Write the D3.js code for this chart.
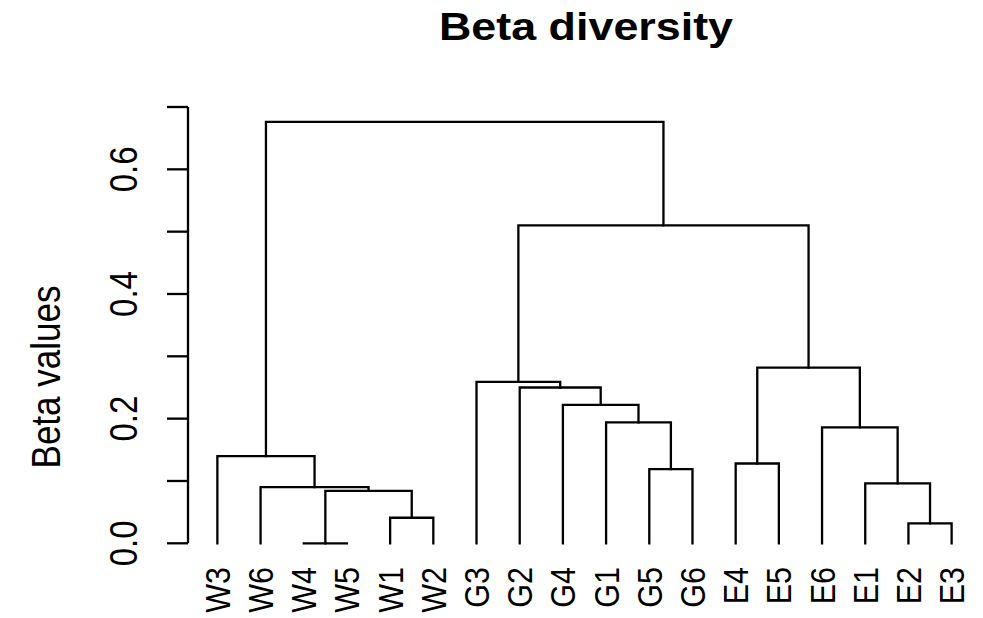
<!DOCTYPE html>
<html>
<head>
<meta charset="utf-8">
<script src="https://cdn.jsdelivr.net/npm/d3@7"></script>
<style>
  body { margin: 0; background: #fff; }
  svg text { font-family: "Liberation Sans", Arial, Helvetica, sans-serif; fill: #000; }
</style>
</head>
<body>
<svg id="chart" width="983" height="618"></svg>
<script>
// ---- Data ----
// leaf order along the x axis
const leaves = ["W3","W6","W4","W5","W1","W2","G3","G2","G4","G1","G5","G6","E4","E5","E6","E1","E2","E3"];
// hclust style merges: a string is a leaf, a number is an earlier merge (1-based)
const mergeLeft  = ["W4","E2","W1", 1,"W6","E1","G5","E4","W3","E6","G1","G4","G2","G3", 8, 14,  9];
const mergeRight = ["W5","E3","W2", 3,  4,   2,"G6","E5",  5,  6,  7,  11,  12,  13, 10, 15, 16];
const heights    = [0.000,0.032,0.041,0.084,0.090,0.096,0.119,0.128,0.140,0.186,0.194,0.222,0.250,0.259,0.282,0.510,0.676];
const yTicks = [0, 0.1, 0.2, 0.3, 0.4, 0.5, 0.6, 0.7];
const yLabels = [0, 0.2, 0.4, 0.6];

const svg = d3.select("#chart");
// the picture is a bit wider than tall, text looks stretched sideways
const SX = 1.15;
const LW = 2.3;

// plot region
const left = 188, right = 981;
const n = leaves.length;
const pad = 0.04 * (n - 1);
const x = d3.scaleLinear().domain([1 - pad, n + pad]).range([left, right]);
const y = d3.scaleLinear().domain([0, 0.7]).range([543.3, 107]);

// ---- Build node positions ----
const pos = {};   // leaf -> {x, h}
leaves.forEach((l, i) => pos[l] = {x: x(i + 1), h: 0});
const nodes = [];
function get(ref) { return typeof ref === "string" ? pos[ref] : nodes[ref - 1]; }
heights.forEach((h, i) => {
    const a = get(mergeLeft[i]), b = get(mergeRight[i]);
    nodes.push({x: (a.x + b.x) / 2, h: h, a: a, b: b});
});

// ---- Draw the branches ----
const g = svg.append("g")
    .attr("fill", "none")
    .attr("stroke", "#000")
    .attr("stroke-width", LW)
    .attr("stroke-linecap", "square");
g.selectAll("path")
    .data(nodes)
    .join("path")
    .attr("d", d => `M${d.a.x},${y(d.a.h)}V${y(d.h)}H${d.b.x}V${y(d.b.h)}`);

// ---- Y axis ----
const ax = svg.append("g").attr("transform", `translate(${left},0)`);
ax.append("path")
    .attr("d", `M0,${y(0)}V${y(0.7)}`)
    .attr("stroke", "#000").attr("stroke-width", LW).attr("fill", "none");
ax.selectAll("line.tick")
    .data(yTicks)
    .join("line")
    .attr("class", "tick")
    .attr("x1", 0).attr("x2", -21)
    .attr("y1", d => y(d)).attr("y2", d => y(d))
    .attr("stroke", "#000").attr("stroke-width", LW);
ax.selectAll("text")
    .data(yLabels)
    .join("text")
    .attr("transform", d => `translate(-51,${y(d)}) scale(${SX},1) rotate(-90)`)
    .attr("text-anchor", "middle")
    .style("font-size", "33px")
    .text(d => d3.format(".1f")(d));

// ---- Leaf labels ----
svg.append("g")
    .selectAll("text")
    .data(leaves)
    .join("text")
    .attr("transform", (d, i) => `translate(${x(i + 1) + 12.5},567) scale(${SX},1) rotate(-90)`)
    .attr("text-anchor", "end")
    .style("font-size", "30.5px")
    .text(d => d);

// ---- Titles ----
svg.append("text")
    .attr("transform", `translate(586,40) scale(${SX},1)`)
    .attr("text-anchor", "middle")
    .style("font-size", "39px")
    .style("font-weight", "bold")
    .text("Beta diversity");

svg.append("text")
    .attr("transform", `translate(60,377) scale(${SX},1) rotate(-90)`)
    .attr("text-anchor", "middle")
    .style("font-size", "35px")
    .text("Beta values");
</script>
</body>
</html>
